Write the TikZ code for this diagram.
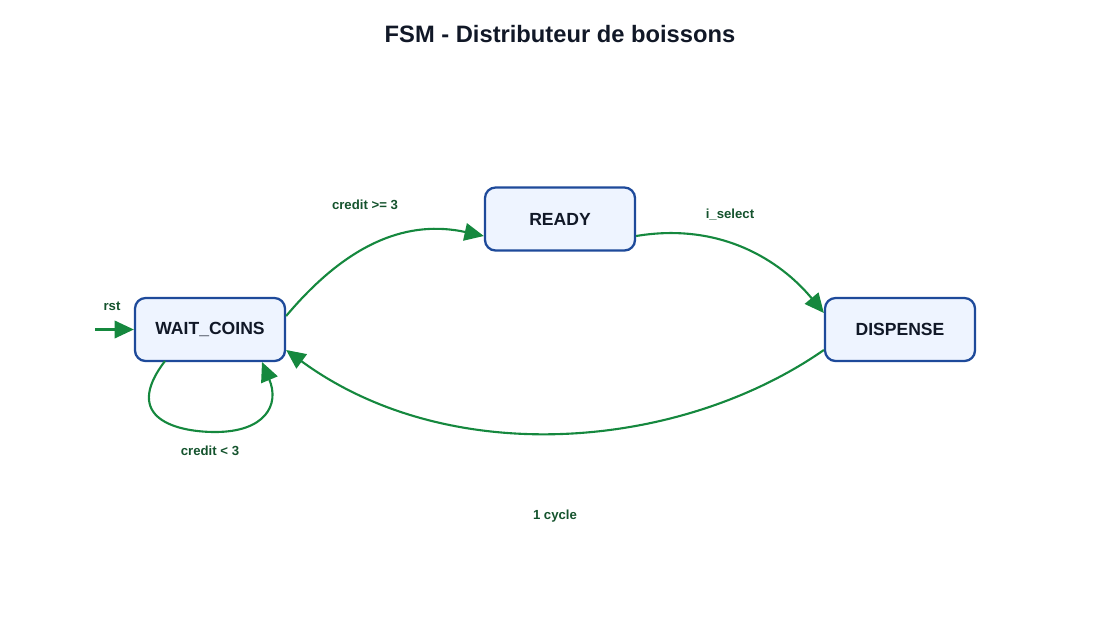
\documentclass[tikz,border=0pt]{standalone}
\usepackage{fontspec}
\setmainfont{Liberation Sans}
\usetikzlibrary{arrows.meta}
\definecolor{edgegreen}{HTML}{15883E}
\definecolor{labelgreen}{HTML}{14532D}
\definecolor{stateblue}{HTML}{1E4A9A}
\definecolor{statefill}{HTML}{EEF4FF}
\definecolor{titlegray}{HTML}{111827}
\tikzset{state/.style = {draw=stateblue, fill=statefill, line width=1.3pt, rounded corners=6pt,
                         minimum width=150*0.02cm, minimum height=63*0.02cm,
                         font=\fontsize{10}{12}\selectfont\bfseries, text=titlegray}}
\tikzset{trans/.style = {draw=edgegreen, line width=1.2pt,
                         -{Triangle[length=11pt,width=10pt]}}}
\tikzset{lbl/.style = {font=\fontsize{7.5}{9}\selectfont\bfseries, text=labelgreen}}

\begin{document}
\begin{tikzpicture}[x=0.02cm, y=-0.02cm]
  \useasboundingbox (0, 0) rectangle (1120, 620);
  \node [font=\fontsize{13.5}{15}\selectfont\bfseries, text=titlegray] (title) at (560, 34) {FSM - Distributeur de boissons};

  \node [state] (wait) at (210, 329.5) {WAIT\_COINS};
  \node [state] (ready) at (560, 219) {READY};
  \node [state] (dispense) at (900, 329.5) {DISPENSE};

  \coordinate (start) at (95, 329.5);
  \draw [trans] (start) -- (wait.west);
  \node [lbl] (rstlbl) at (112, 306) {rst};

  \draw [trans] (wait.east |- 0, 316) .. controls (350, 240) and (410, 220) .. (ready.west |- 0, 236);
  \node [lbl] (creditge) at (365, 205) {credit >= 3};

  \draw [trans] (ready.east |- 0, 236) .. controls (720, 222) and (780, 260) .. (dispense.west |- 0, 313);
  \node [lbl] (selectlbl) at (730, 215) {i\_select};

  \draw [trans] (dispense.west |- 0, 350) .. controls (680, 450) and (450, 470) .. (wait.east |- 0, 350);
  \node [lbl] (cyclelbl) at (555, 516) {1 cycle};

  \draw [trans] (165, 361) .. controls (120, 420) and (180, 432) .. (215, 432)
                .. controls (265, 432) and (280, 405) .. (262, 362);
  \node [lbl] (creditlt) at (210, 451) {credit < 3};
\end{tikzpicture}
\end{document}
